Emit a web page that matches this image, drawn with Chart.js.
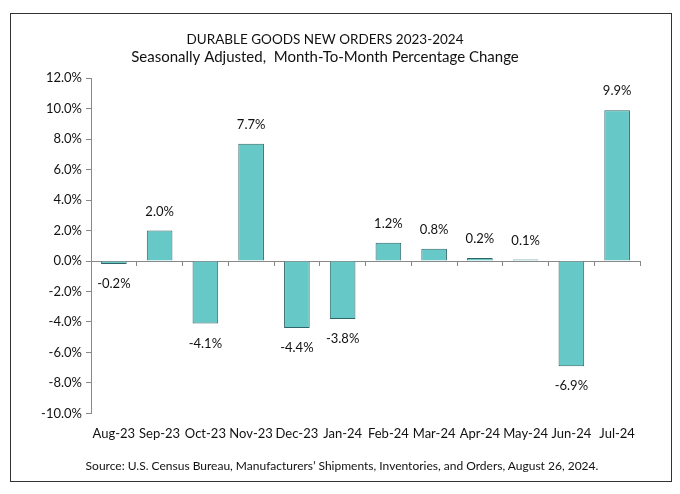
<!DOCTYPE html>
<html>
<head>
<meta charset="utf-8">
<script src="https://cdn.jsdelivr.net/npm/chart.js@4"></script>
<style>
  body { margin: 0; background: #fff; }
  #wrap { position: relative; width: 680px; height: 494px; font-family: Lato, 'Open Sans', sans-serif; }
  #frame { position: absolute; left: 10px; top: 13px; width: 660px; height: 467px; border: 1.5px solid #333; pointer-events: none; }
  canvas { position: absolute; left: 0; top: 0; }
  #source { position: absolute; left: 0; width: 684px; top: 458px; text-align: center; font-size: 12px; color: #111; }
</style>
</head>
<body>
<div id="wrap">
  <canvas id="chart" width="680" height="494"></canvas>
  <div id="source"></div>
  <div id="frame"></div>
</div>
<script>
const months = ["Aug-23", "Sep-23", "Oct-23", "Nov-23", "Dec-23", "Jan-24", "Feb-24", "Mar-24", "Apr-24", "May-24", "Jun-24", "Jul-24"];
const pctChange = [-0.2, 2.0, -4.1, 7.7, -4.4, -3.8, 1.2, 0.8, 0.2, 0.1, -6.9, 9.9];
const titleText = "DURABLE GOODS NEW ORDERS 2023-2024";
const subtitleText = "Seasonally Adjusted,  Month-To-Month Percentage Change";
const sourceNote = "Source: U.S. Census Bureau, Manufacturers\u2019 Shipments, Inventories, and Orders, August 26, 2024.";

const FONT = "Lato, 'Open Sans', sans-serif";

document.getElementById("source").textContent = sourceNote;

// value labels above positive bars, below negative ones
const valueLabels = {
  id: "valueLabels",
  afterDatasetsDraw(chart) {
    const ctx = chart.ctx;
    const meta = chart.getDatasetMeta(0);
    ctx.save();
    ctx.font = "13px " + FONT;
    ctx.fillStyle = "#111";
    ctx.textAlign = "center";
    ctx.textBaseline = "middle";
    meta.data.forEach((bar, i) => {
      const v = pctChange[i];
      const y = v >= 0 ? bar.y - 19 : bar.y + 20;
      ctx.fillText(v.toFixed(1) + "%", bar.x, y);
    });
    ctx.restore();
  }
};

new Chart(document.getElementById("chart"), {
  type: "bar",
  data: {
    labels: months,
    datasets: [{
      data: pctChange,
      backgroundColor: "#66c9c8",
      borderColor: "#2e6566",
      borderWidth: 1,
      barPercentage: 0.56,
      categoryPercentage: 1.0
    }]
  },
  options: {
    responsive: false,
    animation: false,
    layout: { padding: { left: 10, right: 40, top: 32, bottom: 47 } },
    plugins: {
      legend: { display: false },
      tooltip: { enabled: false },
      title: {
        display: true,
        text: titleText,
        color: "#111",
        font: { family: FONT, size: 13.5, weight: "normal", lineHeight: 1.2 },
        padding: { top: 0, bottom: 0 }
      },
      subtitle: {
        display: true,
        text: subtitleText,
        color: "#111",
        font: { family: FONT, size: 15, lineHeight: 1.2 },
        padding: { top: 0, bottom: 12 }
      }
    },
    scales: {
      x: {
        grid: { display: false },
        border: { display: false },
        ticks: { color: "#111", font: { family: FONT, size: 13 }, maxRotation: 0, autoSkip: false, padding: 5 }
      },
      xZero: {
        type: "category",
        labels: months,
        axis: "x",
        position: { y: 0 },
        offset: true,
        grid: { offset: true, drawOnChartArea: false, drawTicks: true, tickLength: 4, color: "#888" },
        border: { display: true, color: "#888", width: 1 },
        ticks: { display: false }
      },
      y: {
        min: -10,
        max: 12,
        grid: { drawOnChartArea: false, drawTicks: true, tickLength: 5, color: "#888" },
        border: { display: true, color: "#888", width: 1 },
        ticks: {
          stepSize: 2,
          color: "#111",
          padding: 4,
          font: { family: FONT, size: 13 },
          callback: v => v.toFixed(1) + "%"
        },
        afterFit(scale) { scale.width = 81; }
      }
    }
  },
  plugins: [valueLabels]
});
</script>
</body>
</html>
